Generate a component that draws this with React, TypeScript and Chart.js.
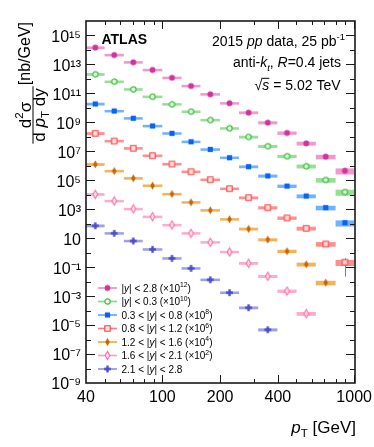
import React, { useEffect, useRef } from "react";
import { Chart, registerables } from "chart.js";
Chart.register(...registerables);

// ---------- data ----------
const binEdges = [40, 50, 63, 79, 100, 126, 158, 200, 251, 316, 398, 501, 631, 800, 1000];
const xTickValues = [40, 100, 200, 400, 1000];

const seriesLabels = [
  "|#it{y}| < 2.8 (×10^{12})",
  "|#it{y}| < 0.3 (×10^{10})",
  "0.3 < |#it{y}| < 0.8 (×10^{8})",
  "0.8 < |#it{y}| < 1.2 (×10^{6})",
  "1.2 < |#it{y}| < 1.6 (×10^{4})",
  "1.6 < |#it{y}| < 2.1 (×10^{2})",
  "2.1 < |#it{y}| < 2.8",
];
const scaleExponents = [12, 10, 8, 6, 4, 2, 0];

// cross-sections in nb/GeV (before scaling), one value per pT bin
const xsecY00_28 = [145, 44.7, 14.1, 4.17, 1.2, 0.324, 0.0871, 0.0209, 0.00468, 9.55e-4, 1.86e-4, 3.55e-5, 4.27e-6, 4.57e-7];
const xsecY00_03 = [209, 64.6, 19.1, 5.89, 1.78, 0.55, 0.145, 0.0389, 0.00977, 0.00224, 4.57e-4, 9.33e-5, 1.05e-5, 1.55e-6];
const xsecY03_08 = [186, 60.3, 19.1, 5.62, 1.74, 0.457, 0.135, 0.0363, 0.00871, 0.002, 3.98e-4, 8.13e-5, 1.29e-5, 1.17e-6];
const xsecY08_12 = [174, 51.3, 16.2, 5.01, 1.32, 0.389, 0.11, 0.0263, 0.00631, 0.00129, 2.51e-4, 4.79e-5, 3.98e-6, 2.19e-7];
const xsecY12_16 = [126, 43.7, 13.8, 4.27, 1.12, 0.302, 0.0851, 0.0204, 0.00437, 7.94e-4, 1.26e-4, 1.58e-5, 8.51e-7];
const xsecY16_21 = [107, 37.2, 10.5, 3.02, 0.813, 0.219, 0.0525, 0.0112, 0.00186, 2.34e-4, 2.24e-5, 6.17e-7];
const xsecY21_28 = [72.4, 21.9, 6.46, 1.7, 0.407, 0.0832, 0.0135, 0.00174, 1.58e-4, 4.79e-6];
const seriesValues = [xsecY00_28, xsecY00_03, xsecY03_08, xsecY08_12, xsecY12_16, xsecY16_21, xsecY21_28];

// relative systematic uncertainty per pT bin, relative stat. uncertainty of each series' last point
const sysRelByBin = [0.22, 0.2, 0.2, 0.2, 0.2, 0.2, 0.2, 0.2, 0.22, 0.24, 0.26, 0.3, 0.35, 0.45];
const lastPointStatRel = [0.05, 0.05, 0.08, 0.9, 0.15, 0.2, 0.2];

// ---------- styles ----------
const FONT = '"Liberation Sans", Arial, Helvetica, sans-serif';
const markerColors = ["#d0349a", "#3cbf3c", "#0a62f2", "#ff4848", "#c86400", "#ff6fa8", "#4c4cc8"];
const bandColors = ["#ee86c4", "#82da82", "#55a6ff", "#ff7a7a", "#f2a440", "#ff9cc4", "#8e8ee6"];
const markerKinds = ["circle", "openCircle", "square", "openSquare", "diamond", "openDiamond", "cross"];

function makeMarker(kind: string, color: string): HTMLCanvasElement {
  const c = document.createElement("canvas");
  c.width = 11;
  c.height = 11;
  const g = c.getContext("2d")!;
  const m = 5.5;
  g.fillStyle = color;
  g.strokeStyle = color;
  g.lineWidth = 1.2;
  const hollow = "rgba(255,255,255,0.75)";
  const diamond = () => {
    g.beginPath();
    g.moveTo(m, m - 4);
    g.lineTo(m + 2.3, m);
    g.lineTo(m, m + 4);
    g.lineTo(m - 2.3, m);
    g.closePath();
  };
  switch (kind) {
    case "circle":
      g.beginPath();
      g.arc(m, m, 2.9, 0, Math.PI * 2);
      g.fill();
      break;
    case "openCircle":
      g.beginPath();
      g.arc(m, m, 2.7, 0, Math.PI * 2);
      g.fillStyle = hollow;
      g.fill();
      g.stroke();
      break;
    case "square":
      g.fillRect(m - 2.6, m - 2.6, 5.2, 5.2);
      break;
    case "openSquare":
      g.fillStyle = hollow;
      g.fillRect(m - 2.7, m - 2.7, 5.4, 5.4);
      g.strokeRect(m - 2.7, m - 2.7, 5.4, 5.4);
      break;
    case "diamond":
      diamond();
      g.fill();
      break;
    case "openDiamond":
      diamond();
      g.fillStyle = hollow;
      g.fill();
      g.stroke();
      break;
    case "cross":
      g.fillRect(m - 3.4, m - 1.2, 6.8, 2.4);
      g.fillRect(m - 1.2, m - 3.4, 2.4, 6.8);
      break;
  }
  return c;
}

// ---------- rich text ----------
type Seg = { t: string; it: boolean; pos: number; ol: boolean };
function parseRich(s: string, it = false, pos = 0, ol = false): Seg[] {
  const out: Seg[] = [];
  let buf = "";
  let i = 0;
  const flush = () => {
    if (buf) out.push({ t: buf, it, pos, ol });
    buf = "";
  };
  while (i < s.length) {
    let kind = "";
    let start = 0;
    if (s.startsWith("#it{", i)) { kind = "it"; start = i + 4; }
    else if (s.startsWith("#ol{", i)) { kind = "ol"; start = i + 4; }
    else if (s.startsWith("^{", i)) { kind = "sup"; start = i + 2; }
    else if (s.startsWith("_{", i)) { kind = "sub"; start = i + 2; }
    if (kind) {
      flush();
      let depth = 1;
      let j = start;
      while (j < s.length && depth > 0) {
        if (s[j] === "{") depth++;
        else if (s[j] === "}") depth--;
        j++;
      }
      const inner = s.slice(start, j - 1);
      out.push(
        ...parseRich(
          inner,
          kind === "it" ? true : it,
          kind === "sup" ? 1 : kind === "sub" ? -1 : pos,
          kind === "ol" ? true : ol
        )
      );
      i = j;
    } else {
      buf += s[i];
      i++;
    }
  }
  flush();
  return out;
}
function plainText(s: string) {
  return parseRich(s).map((g) => g.t).join("");
}
function segFont(g: Seg, size: number, bold: boolean) {
  const sz = g.pos !== 0 ? size * 0.68 : size;
  return `${g.it ? "italic " : ""}${bold ? "bold " : ""}${sz.toFixed(1)}px ${FONT}`;
}
function drawRich(
  ctx: CanvasRenderingContext2D,
  s: string,
  x: number,
  y: number,
  size: number,
  align: "left" | "right" | "center" = "left",
  bold = false,
  color = "#000"
) {
  const segs = parseRich(s);
  const widths = segs.map((g) => {
    ctx.font = segFont(g, size, bold);
    return ctx.measureText(g.t).width;
  });
  const total = widths.reduce((a, b) => a + b, 0);
  let cx = align === "left" ? x : align === "right" ? x - total : x - total / 2;
  ctx.save();
  ctx.textAlign = "left";
  ctx.textBaseline = "alphabetic";
  ctx.fillStyle = color;
  ctx.strokeStyle = color;
  segs.forEach((g, k) => {
    ctx.font = segFont(g, size, bold);
    const dy = g.pos === 1 ? -size * 0.42 : g.pos === -1 ? size * 0.25 : 0;
    ctx.fillText(g.t, cx, y + dy);
    if (g.ol) {
      ctx.lineWidth = 1;
      ctx.beginPath();
      ctx.moveTo(cx - 1, y - size * 0.8);
      ctx.lineTo(cx + widths[k], y - size * 0.8);
      ctx.stroke();
    }
    cx += widths[k];
  });
  ctx.restore();
  return total;
}

const SUP: Record<string, string> = { "0": "⁰", "1": "¹", "2": "²", "3": "³", "4": "⁴", "5": "⁵", "6": "⁶", "7": "⁷", "8": "⁸", "9": "⁹", "-": "⁻" };
const toSup = (n: number) => String(n).split("").map((c) => SUP[c]).join("");

function binCenter(j: number) {
  return Math.sqrt(binEdges[j] * binEdges[j + 1]);
}

export default function App() {
  const ref = useRef<HTMLCanvasElement>(null);

  useEffect(() => {
    const markers = markerKinds.map((k, i) => makeMarker(k, markerColors[i]));

    const datasets = seriesValues.map((vals, i) => ({
      label: plainText(seriesLabels[i]),
      data: vals.map((v, j) => ({ x: binCenter(j), y: v * Math.pow(10, scaleExponents[i]) })),
      pointStyle: markers[i] as any,
      pointRadius: 4,
      showLine: false,
      borderColor: markerColors[i],
      backgroundColor: markerColors[i],
    }));

    const atlasPlugin = {
      id: "atlasDecor",
      beforeDatasetsDraw(chart: any) {
        const ctx: CanvasRenderingContext2D = chart.ctx;
        const xs = chart.scales.x;
        const ys = chart.scales.y;
        ctx.save();
        chart.data.datasets.forEach((ds: any, i: number) => {
          const n = ds.data.length;
          ds.data.forEach((p: any, j: number) => {
            const x0 = xs.getPixelForValue(binEdges[j]);
            const x1 = xs.getPixelForValue(binEdges[j + 1]);
            const s = sysRelByBin[j];
            const yt = ys.getPixelForValue(p.y * (1 + s));
            const yb = ys.getPixelForValue(p.y * (1 - s));
            ctx.fillStyle = bandColors[i];
            ctx.globalAlpha = 0.85;
            ctx.fillRect(x0, yt, x1 - x0, yb - yt);
            ctx.globalAlpha = 1;
            if (j === n - 1) {
              const r = lastPointStatRel[i];
              const xc = xs.getPixelForValue(p.x);
              const ya = ys.getPixelForValue(p.y * (1 + r));
              const yz = ys.getPixelForValue(p.y * Math.max(1 - r, 1e-3));
              ctx.strokeStyle = markerColors[i];
              ctx.lineWidth = 1;
              ctx.beginPath();
              ctx.moveTo(Math.round(xc) + 0.5, ya);
              ctx.lineTo(Math.round(xc) + 0.5, yz);
              ctx.stroke();
            }
          });
        });
        ctx.restore();
      },
      afterDraw(chart: any) {
        const ctx: CanvasRenderingContext2D = chart.ctx;
        const a = chart.chartArea;
        const xs = chart.scales.x;
        const ys = chart.scales.y;
        ctx.save();
        ctx.strokeStyle = "#1a1a1a";
        ctx.lineWidth = 1;
        // ticks x
        const majors = new Set(xTickValues);
        for (let d = 10; d <= 1000; d *= 10) {
          for (let k = 1; k <= 9; k++) {
            const v = k * d;
            if (v <= xs.min || v >= xs.max) continue;
            const len = majors.has(v) ? 8 : 4;
            const px = Math.round(xs.getPixelForValue(v)) + 0.5;
            ctx.beginPath();
            ctx.moveTo(px, a.bottom);
            ctx.lineTo(px, a.bottom - len);
            ctx.moveTo(px, a.top);
            ctx.lineTo(px, a.top + len);
            ctx.stroke();
          }
        }
        // ticks y
        for (let e = -8; e <= 15; e++) {
          const len = Math.abs(e % 2) === 1 ? 9 : 5;
          const py = Math.round(ys.getPixelForValue(Math.pow(10, e))) + 0.5;
          ctx.beginPath();
          ctx.moveTo(a.left, py);
          ctx.lineTo(a.left + len, py);
          ctx.moveTo(a.right, py);
          ctx.lineTo(a.right - len, py);
          ctx.stroke();
        }
        // frame
        ctx.lineWidth = 1.6;
        ctx.strokeRect(a.left, a.top, a.right - a.left, a.bottom - a.top);
        ctx.restore();

        // annotations
        drawRich(ctx, "ATLAS", 101.5, 44, 14, "left", true);
        drawRich(ctx, "2015 #it{pp} data, 25 pb^{-1}", 345, 45.5, 14, "right");
        drawRich(ctx, "anti-#it{k}_{#it{t}}, #it{R}=0.4 jets", 341, 67, 14, "right");
        drawRich(ctx, "√#ol{#it{s}} = 5.02 TeV", 340.5, 89.5, 14, "right");

        // legend
        chart.data.datasets.forEach((ds: any, i: number) => {
          const cy = 288 + i * 13.5;
          ctx.save();
          ctx.strokeStyle = bandColors[i];
          ctx.lineWidth = 1.6;
          ctx.beginPath();
          ctx.moveTo(98, cy);
          ctx.lineTo(117, cy);
          ctx.stroke();
          const m = markers[i];
          ctx.drawImage(m, 107.5 - m.width / 2, cy - m.height / 2);
          ctx.restore();
          drawRich(ctx, seriesLabels[i], 121.5, cy + 3.6, 10, "left");
        });

        // x axis title
        drawRich(ctx, "#it{p}_{T} [GeV]", 356, 433, 17, "right");

        // y axis title (rotated)
        ctx.save();
        ctx.rotate(-Math.PI / 2);
        const fracCenter = -115;
        const wDen = drawRich(ctx, "d #it{p}_{T} dy", fracCenter, 44.5, 17, "center");
        drawRich(ctx, "d^{2}σ", fracCenter, 30.5, 17, "center");
        ctx.strokeStyle = "#000";
        ctx.lineWidth = 1;
        ctx.beginPath();
        ctx.moveTo(fracCenter - wDen / 2 - 2, 33);
        ctx.lineTo(fracCenter + wDen / 2 + 2, 33);
        ctx.stroke();
        drawRich(ctx, "[nb/GeV]", -22, 29.5, 16, "right");
        ctx.restore();
      },
    };

    const chart = new Chart(ref.current!, {
      type: "scatter",
      data: { datasets } as any,
      options: {
        responsive: false,
        animation: false,
        events: [],
        layout: { padding: { left: 0, right: 19, top: 21, bottom: 0 } },
        plugins: {
          legend: { display: false },
          tooltip: { enabled: false },
          title: { display: false },
        },
        scales: {
          x: {
            type: "logarithmic",
            min: 40,
            max: 1010,
            grid: { display: false, drawTicks: false },
            border: { display: false },
            ticks: {
              autoSkip: false,
              maxRotation: 0,
              padding: 5,
              color: "#000",
              font: { family: FONT, size: 16 },
              callback: (v: any) => String(v),
            },
            afterBuildTicks: (s: any) => {
              s.ticks = xTickValues.map((v) => ({ value: v }));
            },
            afterFit: (s: any) => {
              s.height = 64;
              s.paddingLeft = 0;
              s.paddingRight = 0;
            },
          },
          y: {
            type: "logarithmic",
            min: 1e-9,
            max: 1e16,
            grid: { display: false, drawTicks: false },
            border: { display: false },
            ticks: {
              autoSkip: false,
              padding: 5,
              labelOffset: 2,
              color: "#000",
              font: { family: FONT, size: 16 },
              callback: (v: any) => {
                const e = Math.round(Math.log10(Number(v)));
                if (Math.abs(e % 2) !== 1) return "";
                return e === 1 ? "10" : "10" + toSup(e);
              },
            },
            afterBuildTicks: (s: any) => {
              const t = [];
              for (let e = -9; e <= 16; e++) t.push({ value: Math.pow(10, e) });
              s.ticks = t;
            },
            afterFit: (s: any) => {
              s.width = 86;
              s.paddingTop = 0;
              s.paddingBottom = 0;
            },
          },
        },
      },
      plugins: [atlasPlugin],
    } as any);
    return () => chart.destroy();
  }, []);

  return (
    <div style={{ position: "absolute", left: 0, top: 0, width: 374, height: 447, background: "#fff" }}>
      <canvas ref={ref} width={374} height={447} style={{ display: "block", width: 374, height: 447 }} />
    </div>
  );
}
